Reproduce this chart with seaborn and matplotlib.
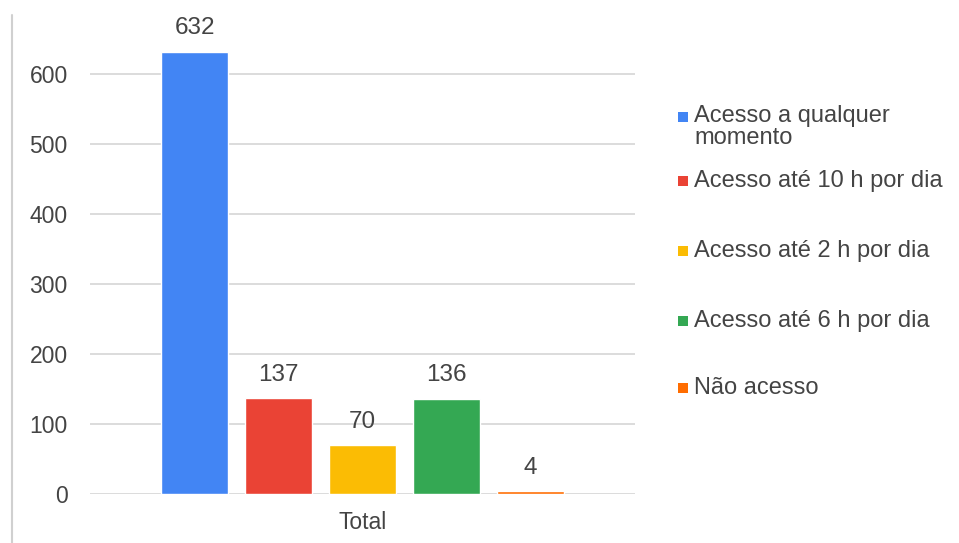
import matplotlib
matplotlib.use("Agg")
import matplotlib.pyplot as plt
from matplotlib.lines import Line2D
from matplotlib.patches import Rectangle
import seaborn as sns
import pandas as pd

# ---- data ----
group_label = "Total"
categories = [
    "Acesso a qualquer\nmomento",
    "Acesso até 10 h por dia",
    "Acesso até 2 h por dia",
    "Acesso até 6 h por dia",
    "Não acesso",
]
values = [632, 137, 70, 136, 4]
colors = ["#4285F4", "#EA4335", "#FBBC04", "#34A853", "#FF6D01"]
yticks = [0, 100, 200, 300, 400, 500, 600]

sns.set_theme(style="white")
plt.rcParams["font.family"] = ["Liberation Sans", "DejaVu Sans"]

TXT = "#444444"
W, H = 959, 543
fig = plt.figure(figsize=(W / 100, H / 100), dpi=100)
fig.patch.set_facecolor("white")
ax = fig.add_axes([90 / W, 49 / H, 545 / W, 461.6 / H])

df = pd.DataFrame({"grupo": [group_label] * len(values),
                   "categoria": categories,
                   "valor": values})
sns.barplot(data=df, x="grupo", y="valor", hue="categoria",
            hue_order=categories, palette=colors, width=0.77, gap=0.21,
            saturation=1, legend=False, ax=ax)

ax.set_xlim(-0.5, 0.5)
ax.set_ylim(0, 660)
ax.set_yticks(yticks)
ax.set_yticklabels([str(t) for t in yticks])
ax.set_xlabel("")
ax.set_ylabel("")
for s in ax.spines.values():
    s.set_visible(False)
ax.yaxis.grid(True, color="#d6d6d6", linewidth=1.2)
ax.set_axisbelow(True)
ax.tick_params(axis="y", length=0, pad=16, labelsize=16.5, labelcolor=TXT)
ax.tick_params(axis="x", length=0, pad=12, labelsize=16.5, labelcolor=TXT)

for cont in ax.containers:
    ax.bar_label(cont, padding=9, fontsize=17.5, color=TXT)

# legend (Google Sheets style, right side)
leg_y = [127, 181, 251, 321, 388]
for cat, col, yy in zip(categories, colors, leg_y):
    first_line_y = 1 - (117 if "\n" in cat else yy) / H
    fig.add_artist(Rectangle((678 / W, first_line_y - 5 / H), 10 / W, 10 / H,
                             transform=fig.transFigure, facecolor=col,
                             edgecolor="none"))
    fig.text(694 / W, 1 - yy / H, cat,
             ha="left", va="center", fontsize=17, color=TXT,
             linespacing=1.0)

# left border line of the screenshot frame
fig.add_artist(Line2D([12 / W, 12 / W], [0, 1 - 15 / H],
                      transform=fig.transFigure, color="#d0d0d0", lw=1.5))

fig.savefig("out.png", dpi=100, facecolor="white")
